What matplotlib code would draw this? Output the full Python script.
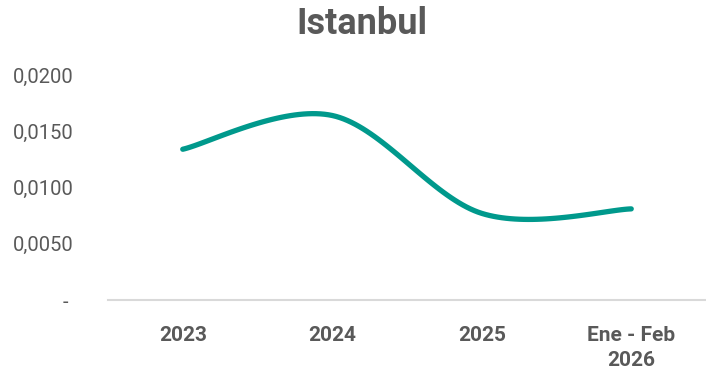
import matplotlib.pyplot as plt
import numpy as np

categories = ["2023", "2024", "2025", "Ene - Feb\n2026"]
values = [0.0134, 0.0164, 0.0077, 0.0081]
y_ticks = [0.0, 0.005, 0.010, 0.015, 0.020]
y_labels = ["- ", "0,0050", "0,0100", "0,0150", "0,0200"]

line_color = "#00998c"
text_color = "#595959"


def smooth(xs, ys, n=40):
    # excel-like smoothed line: cubic bezier with catmull-rom control points
    pts = np.column_stack([xs, ys]).astype(float)
    out = []
    for i in range(len(pts) - 1):
        p0 = pts[max(i - 1, 0)]
        p1 = pts[i]
        p2 = pts[i + 1]
        p3 = pts[min(i + 2, len(pts) - 1)]
        c1 = p1 + (p2 - p0) / 6
        c2 = p2 - (p3 - p1) / 6
        t = np.linspace(0, 1, n)[:, None]
        seg = (1 - t) ** 3 * p1 + 3 * (1 - t) ** 2 * t * c1 + 3 * (1 - t) * t ** 2 * c2 + t ** 3 * p2
        out.append(seg if i == 0 else seg[1:])
    out = np.vstack(out)
    return out[:, 0], out[:, 1]


plt.rcParams["font.family"] = ["Roboto", "DejaVu Sans"]

fig = plt.figure(figsize=(7.06, 3.73), dpi=100)
ax = fig.add_axes([108 / 706, 1 - 300 / 373, 1 - 108 / 706, (300 - 75) / 373])

x = np.arange(len(categories))
sx, sy = smooth(x, values)
ax.plot(sx, sy, color=line_color, linewidth=3.8, solid_capstyle="round")

ax.set_xlim(-0.5, len(categories) - 0.5)
ax.set_ylim(0, 0.02)
ax.set_xticks(x)
ax.set_xticklabels(categories, fontsize=15, fontweight="bold", color=text_color, linespacing=1.4)
ax.set_yticks(y_ticks)
ax.set_yticklabels(y_labels, fontsize=14.5, color=text_color)
ax.tick_params(axis="both", length=0)
ax.tick_params(axis="x", pad=19)
ax.tick_params(axis="y", pad=25)

for side in ["top", "right", "left"]:
    ax.spines[side].set_visible(False)
ax.spines["bottom"].set_color("#d9d9d9")
ax.spines["bottom"].set_linewidth(1.5)

fig.text(0.513, 0.935, "Istanbul", ha="center", va="center", fontsize=26,
         fontweight="bold", color=text_color)

fig.savefig("out.png", dpi=100)
